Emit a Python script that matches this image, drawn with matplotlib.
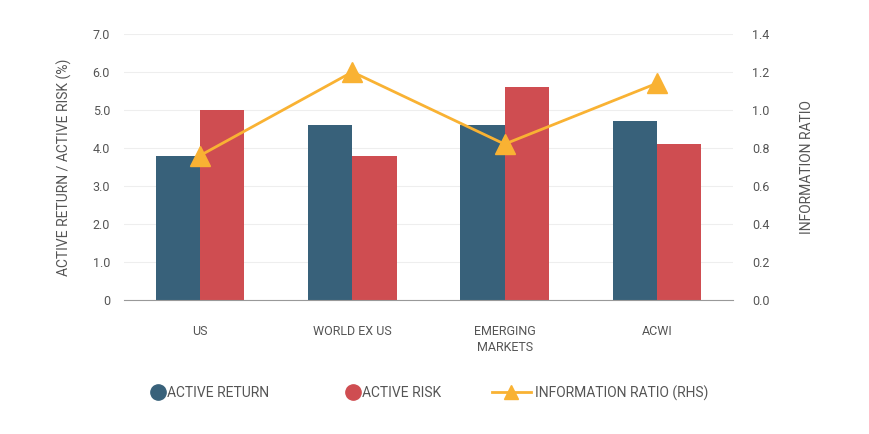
import matplotlib
matplotlib.use("Agg")
import matplotlib.pyplot as plt
import numpy as np
from matplotlib.lines import Line2D

categories = ["US", "WORLD EX US", "EMERGING\nMARKETS", "ACWI"]
active_return = [3.8, 4.6, 4.6, 4.7]
active_risk = [5.0, 3.8, 5.6, 4.1]
info_ratio = [0.76, 1.20, 0.82, 1.14]

blue = "#38617a"
red = "#cf4d51"
yellow = "#f9b233"
txt = "#555555"

plt.rcParams['font.family'] = ['Roboto', 'DejaVu Sans']

fig = plt.figure(figsize=(8.7, 4.34), dpi=100)
ax = fig.add_axes([0.1425, 0.309, 0.700, 0.6128])
x = np.arange(len(categories))
w = 0.29
ax.bar(x - w/2, active_return, w, color=blue, zorder=2)
ax.bar(x + w/2, active_risk, w, color=red, zorder=2)
ax.set_xlim(-0.5, 3.5)
ax.set_ylim(0, 7.0)
ax.set_yticks(np.arange(0, 7.01, 1.0))
ax.set_yticklabels(["0"] + [f"{v:.1f}" for v in np.arange(1, 7.01, 1.0)])
ax.set_xticks(x)
ax.set_xticklabels(categories, fontsize=9, color=txt, linespacing=1.35, va='top')
ax.tick_params(axis='x', length=0, pad=18)
ax.tick_params(axis='y', length=0, pad=10, labelsize=9, labelcolor=txt)
ax.grid(axis='y', color="#eeeeee", linewidth=0.8, zorder=0)
for s in ['top', 'right', 'left']:
    ax.spines[s].set_visible(False)
ax.spines['bottom'].set_color("#999999")
ax.spines['bottom'].set_zorder(3)
ax.set_ylabel("ACTIVE RETURN / ACTIVE RISK (%)", fontsize=10, color=txt, labelpad=15)

ax2 = ax.twinx()
ax2.plot(x, info_ratio, color=yellow, linewidth=2, marker='^', markersize=15, zorder=4)
ax2.set_ylim(0, 1.4)
ax2.set_yticks(np.arange(0, 1.41, 0.2))
ax2.set_yticklabels([f"{v:.1f}" for v in np.arange(0, 1.41, 0.2)])
ax2.tick_params(axis='y', length=0, pad=14, labelsize=9, labelcolor=txt)
for s in ['top', 'right', 'left', 'bottom']:
    ax2.spines[s].set_visible(False)
ax2.set_ylabel("INFORMATION RATIO", fontsize=10, color=txt, labelpad=22)

labels = ["ACTIVE RETURN", "ACTIVE RISK", "INFORMATION RATIO (RHS)"]
specs = [
    (Line2D([], [], linestyle='none', marker='o', markersize=11, color=blue), 0.8, 152),
    (Line2D([], [], linestyle='none', marker='o', markersize=11, color=red), 0.8, 347),
    (Line2D([], [], color=yellow, linewidth=2, marker='^', markersize=10), 2.8, 492),
]
for (h, hl, px), lab in zip(specs, labels):
    leg = fig.legend([h], [lab], loc='center left', bbox_to_anchor=(px / 870, 1 - 393 / 434),
                     frameon=False, fontsize=10, handlelength=hl, handletextpad=0.3,
                     borderaxespad=0, borderpad=0, labelcolor=txt)
fig.savefig("out.png", dpi=100)
